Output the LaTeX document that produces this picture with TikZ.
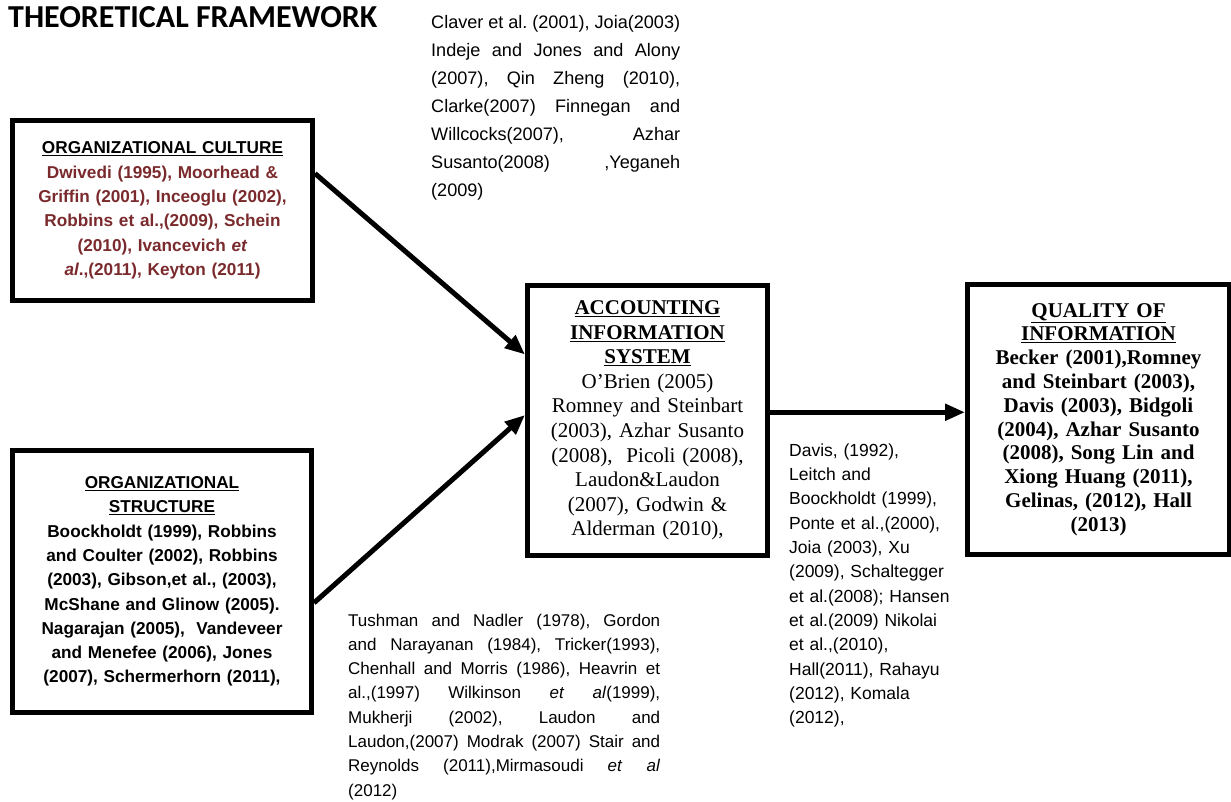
\documentclass[tikz,border=0pt]{standalone}
\usepackage{fontspec}
\setmainfont{Liberation Sans}
\newfontfamily\serifrm{Liberation Serif}
\newfontfamily\titlerm{Carlito}
\usepackage{tikz}
\usetikzlibrary{arrows.meta, calc}
\definecolor{citered}{RGB}{122,42,44}
\newcommand\loosepar{\frenchspacing\tolerance=10000\hbadness=10000}
\newcommand\topline[1]{\makebox[249pt][s]{\spaceskip=0pt\xspaceskip=0pt\frenchspacing#1}}

\tikzset{
    box/.style={draw, line width=5pt, inner sep=0pt, align=center},
    flow/.style={line width=5pt, -{Triangle[length=20pt, width=16pt]}},
    refs/.style={inner sep=0pt, anchor=north west, align=justify, execute at begin node=\loosepar}
}

\begin{document}
\begin{tikzpicture}[x=1pt, y=-1pt]
            \useasboundingbox (0, 0) rectangle (1231, 801);

            \node[anchor=base west, inner sep=0pt, font=\titlerm\bfseries\fontsize{32}{38}\selectfont] (title) at (8, 27) {THEORETICAL FRAMEWORK};

            \node[refs, align=left, text width=260pt, font=\fontsize{18.1}{28}\selectfont] (t0) at (431, 15.5) {\topline{Claver et al. (2001), Joia(2003)}\\ \topline{Indeje and Jones and Alony}\\ \topline{(2007), Qin Zheng (2010),}\\ \topline{Clarke(2007) Finnegan and}\\ \topline{Willcocks(2007), Azhar}\\ \topline{Susanto(2008) ,Yeganeh}\\ (2009)};
            \node[refs, text width=312pt, font=\fontsize{17}{24.3}\selectfont] (t1) at (348, 613.5) {Tushman and Nadler (1978), Gordon\linebreak and Narayanan (1984), Tricker(1993),\linebreak Chenhall and Morris (1986), Heavrin et\linebreak al.,(1997) Wilkinson \textit{et} \textit{al}(1999),\linebreak Mukherji (2002), Laudon and\linebreak Laudon,(2007) Modrak (2007) Stair and\linebreak Reynolds (2011),Mirmasoudi \textit{et} \textit{al}\linebreak (2012)};
            \node[refs, align=left, text width=180pt, font=\fontsize{17.5}{24.3}\selectfont] (t2) at (789, 443.5) {Davis, (1992),\\ Leitch and\\ Boockholdt (1999),\\ Ponte et al.,(2000),\\ Joia (2003), Xu\\ (2009), Schaltegger\\ et al.(2008); Hansen\\ et al.(2009) Nikolai\\ et al.,(2010),\\ Hall(2011), Rahayu\\ (2012), Komala\\ (2012),};

            \node[box, minimum width=300pt, minimum height=180pt, text width=290pt, text=citered, font=\bfseries\fontsize{17.2}{24.3}\selectfont] (n0) at (162.5, 210.5) {\textcolor{black}{\underline{ORGANIZATIONAL CULTURE}}\\ Dwivedi (1995), Moorhead \&\\ Griffin (2001), Inceoglu (2002),\\ Robbins et al.,(2009), Schein\\ (2010), Ivancevich \textit{et}\\ \textit{al}.,(2011), Keyton (2011)};
            \node[box, minimum width=299pt, minimum height=262pt, text width=290pt, font=\bfseries\fontsize{17.2}{24.3}\selectfont] (n1) at (162, 581.5) {\underline{ORGANIZATIONAL}\\ \underline{STRUCTURE}\\ Boockholdt (1999), Robbins\\ and Coulter (2002), Robbins\\ (2003), Gibson,et al., (2003),\\ McShane and Glinow (2005).\\ Nagarajan (2005), \ Vandeveer\\ and Menefee (2006), Jones\\ (2007), Schermerhorn (2011),};
            \node[box, minimum width=240pt, minimum height=270pt, text width=232pt, font=\serifrm\fontsize{21}{24.6}\selectfont] (n2) at (647.5, 420.5) {\textbf{\underline{ACCOUNTING}}\\ \textbf{\underline{INFORMATION}}\\ \textbf{\underline{SYSTEM}}\\ O’Brien (2005)\\ Romney and Steinbart\\ (2003), Azhar Susanto\\ (2008), \ Picoli (2008),\\ Laudon\&Laudon\\ (2007), Godwin \&\\ Alderman (2010),};
            \node[box, minimum width=262pt, minimum height=270pt, text width=252pt, font=\serifrm\bfseries\fontsize{21}{23.8}\selectfont] (n3) at (1098.5, 419.5) {\underline{QUALITY OF}\\ \underline{INFORMATION}\\ Becker (2001),Romney\\ and Steinbart (2003),\\ Davis (2003), Bidgoli\\ (2004), Azhar Susanto\\ (2008), Song Lin and\\ Xiong Huang (2011),\\ Gelinas, (2012), Hall\\ (2013)};

            \draw[flow] ($(n0.north east)!0.3!(n0.south east)$) -- ($(n2.north west)!0.26!(n2.south west)$);
            \draw[flow] ($(n1.north east)!0.58!(n1.south east)$) -- ($(n2.north west)!0.48!(n2.south west)$);
            \draw[flow] ($(n2.north east)!0.47!(n2.south east)$) coordinate (c0) -- (c0 -| n3.west);
\end{tikzpicture}
\end{document}
